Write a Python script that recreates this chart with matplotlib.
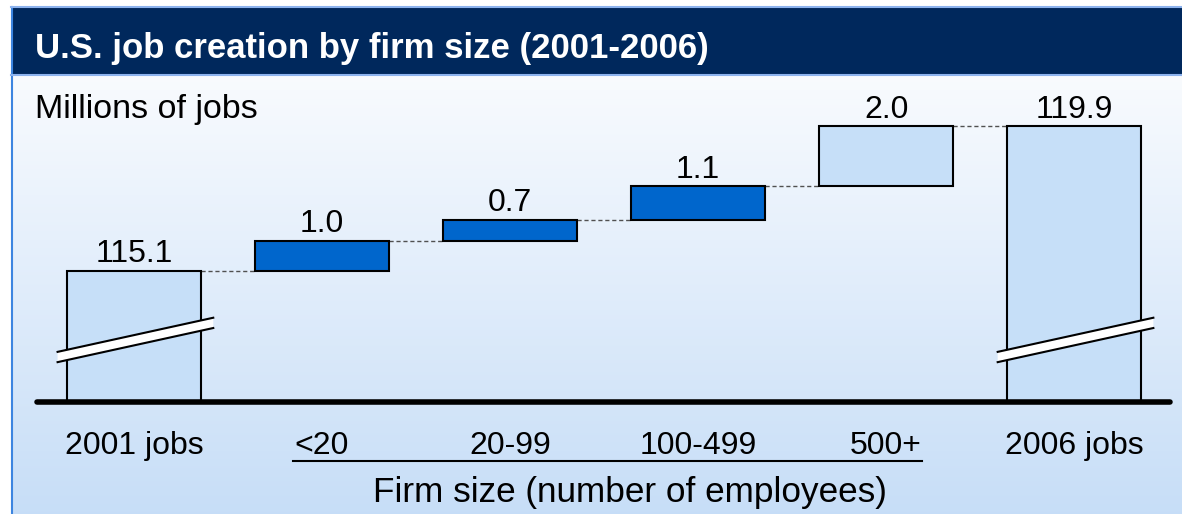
import numpy as np
import matplotlib.pyplot as plt
from matplotlib.patches import Rectangle, Polygon

plt.rcParams['font.family'] = ['Liberation Sans', 'DejaVu Sans']

# data
categories = ['2001 jobs', '<20', '20-99', '100-499', '500+', '2006 jobs']
start_total = 115.1
changes = [1.0, 0.7, 1.1, 2.0]
end_total = 119.9
labels = ['115.1', '1.0', '0.7', '1.1', '2.0', '119.9']
change_colors = ['#0066CC', '#0066CC', '#0066CC', '#C6DFF8']

axis_base = 110.76   # value at the broken baseline
W, H = 1182, 514

fig = plt.figure(figsize=(W / 100, H / 100), dpi=100)
fig.patch.set_facecolor('white')

# background panel with gradient
bg = fig.add_axes([11 / W, 0, 1 - 11 / W, 1 - 75 / H])
grad = np.linspace(0, 1, 256).reshape(-1, 1)
top = np.array([0.975, 0.984, 0.996])
bot = np.array([0.78, 0.87, 0.97])
img = top + (bot - top) * grad[..., None]
bg.imshow(img, aspect='auto', extent=[0, 1, 0, 1], origin='upper')
bg.set_axis_off()
fig.add_artist(plt.Line2D([11.5 / W, 11.5 / W], [0, 1 - 7 / H], color='#3D85E0', lw=1.5))

# title bar
fig.add_artist(Rectangle((11 / W, 1 - 75 / H), 1, 68 / H, facecolor='#00285C',
                         edgecolor='none', transform=fig.transFigure))
for yy in (7, 75):
    fig.add_artist(plt.Line2D([11 / W, 1], [1 - yy / H] * 2, color='#8DB3EE', lw=1.5))
fig.text(35 / W, 1 - 45 / H, 'U.S. job creation by firm size (2001-2006)', color='white',
         fontsize=25, fontweight='bold', va='center_baseline', ha='left')
fig.text(35 / W, 1 - 106 / H, 'Millions of jobs', fontsize=24.5, va='center_baseline',
         ha='left')

# main axes: baseline at y=402 px, 30.2 px per million
ax = fig.add_axes([37 / W, 1 - 402 / H, 1133 / W, 322 / H])
ax.patch.set_alpha(0)
ax.set_xlim(-0.516, 5.51)
ax.set_ylim(axis_base, axis_base + 322 / 30.2)
ax.set_axis_off()

bw = 0.713
x = np.arange(len(categories))

# totals
for xi, tot in ((x[0], start_total), (x[-1], end_total)):
    ax.bar(xi, tot - axis_base, bottom=axis_base, width=bw, color='#C6DFF8',
           edgecolor='black', linewidth=1.5, zorder=2)

# change bars
level = start_total
tops = [start_total]
for i, (c, col) in enumerate(zip(changes, change_colors)):
    ax.bar(x[i + 1], c, bottom=level, width=bw, color=col, edgecolor='black',
           linewidth=1.5, zorder=2)
    level += c
    tops.append(level)
tops.append(end_total)

# dashed connectors
for i in range(len(categories) - 1):
    ax.plot([x[i] + bw / 2, x[i + 1] - bw / 2], [tops[i], tops[i]], color='#505050',
            lw=1, ls=(0, (3, 2)), zorder=1)

# value labels
for xi, t, lab in zip(x, tops, labels):
    ax.text(xi, t + 0.28, lab, ha='center', va='baseline', fontsize=23)

# axis breaks on total bars
for xi in (x[0], x[-1]):
    x0, x1 = xi - bw / 2 - 0.05, xi + bw / 2 + 0.065
    y0, y1 = axis_base + 1.49, axis_base + 2.62
    th = 0.17
    poly = Polygon([[x0, y0 - th], [x1, y1 - th], [x1, y1 + th], [x0, y0 + th]],
                   closed=True, facecolor='white', edgecolor='none', zorder=3)
    ax.add_patch(poly)
    for s in (-th, th):
        ax.plot([x0, x1], [y0 + s, y1 + s], color='black', lw=1.5, zorder=4)

# baseline
ax.plot([-0.516, 5.51], [axis_base, axis_base], color='black', lw=4,
        solid_capstyle='round', zorder=5, clip_on=False)

# category labels
for xi, cat in zip(x, categories):
    ax.text(xi, axis_base - 1.33, cat, ha='center', va='center_baseline', fontsize=23)
ax.plot([0.845, 4.19], [axis_base - 1.95] * 2, color='black', lw=1.5, clip_on=False)
ax.text(2.64, axis_base - 2.89, 'Firm size (number of employees)', ha='center',
        va='center_baseline', fontsize=25.3)

fig.savefig('out.png', dpi=100)
